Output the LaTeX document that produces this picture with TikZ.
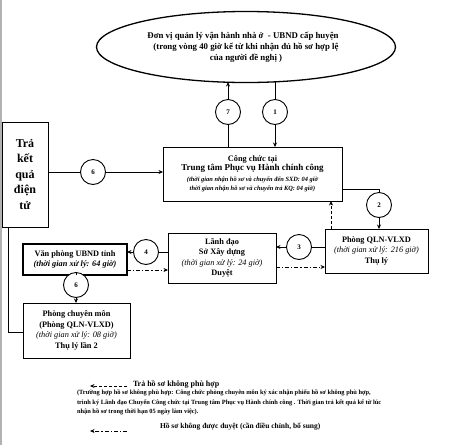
\documentclass[tikz,border=0pt]{standalone}
\usepackage{fontspec}
\setmainfont{Liberation Serif}
\usetikzlibrary{arrows.meta,shapes.geometric}
\newcommand\smallitnote{\fontsize{6.4}{7.5}\selectfont\itshape\bfseries}
\begin{document}
\begin{tikzpicture}[x=1pt,y=-1pt,
  every node/.style={inner sep=0pt,outer sep=0pt},
  box/.style={draw,line width=0.9pt,align=center,font=\fontsize{8.3}{10.5}\selectfont\bfseries},
  num/.style={draw,circle,line width=0.9pt,minimum size=25pt,fill=white,font=\fontsize{7}{8}\selectfont\bfseries},
  conn/.style={line width=0.8pt},
  arr/.style={conn,-{Stealth[length=4.5pt,width=4pt]}},
  dasharr/.style={arr,dash pattern=on 3pt off 2pt},
  dotarr/.style={arr,dash pattern=on 4pt off 2pt on 1.2pt off 2pt}
]
\useasboundingbox (0,0) rectangle (463,445);
\draw[gray!60,line width=1.5pt] (0.75,0) -- (0.75,445);

% main shapes
\node[draw,ellipse,line width=1.3pt,minimum width=299pt,minimum height=71pt,align=center,
      font=\fontsize{8.8}{10.8}\selectfont\bfseries] (ell) at (246,47)
  {\hspace*{-6pt}Đơn vị quản lý vận hành nhà ở\ \ - UBND cấp huyện\\
   (trong vòng 40 giờ kể từ khi nhận đủ hồ sơ hợp lệ\\
   của người đề nghị )};

\node[box,minimum width=46pt,minimum height=105pt,font=\fontsize{12}{15.5}\selectfont\bfseries] (tra) at (25,174.5)
  {Trả\\kết\\quả\\điện\\tử};

\node[box,minimum width=179pt,minimum height=54pt] (cc) at (252.5,174)
  {Công chức tại\\[-1pt]
   {\fontsize{9}{10.5}\selectfont Trung tâm Phục vụ Hành chính công}\\[0pt]
   {\smallitnote (thời gian nhận hồ sơ và chuyển đến SXD: 04 giờ}\\[-1pt]
   {\smallitnote thời gian nhận hồ sơ và chuyển trả KQ: 04 giờ)}};

\node[box,minimum width=103pt,minimum height=44pt] (qln) at (376.5,251)
  {Phòng QLN-VLXD\\
   {\mdseries\itshape (thời gian xử lý: 216 giờ)}\\
   Thụ lý};

\node[box,minimum width=108pt,minimum height=50pt] (ld) at (222,258)
  {Lãnh đạo\\Sở Xây dựng\\
   {\mdseries\itshape (thời gian xử lý: 24 giờ)}\\
   Duyệt};

\node[box,line width=1.4pt,minimum width=104pt,minimum height=31pt] (vp) at (75,259.5)
  {Văn phòng UBND tỉnh\\
   {\itshape (thời gian xử lý: 64 giờ)}};

\node[box,minimum width=107pt,minimum height=55pt] (pcm) at (76.5,330.5)
  {Phòng chuyên môn\\(Phòng QLN-VLXD)\\
   {\mdseries\itshape (thời gian xử lý: 08 giờ)}\\
   Thụ lý lần 2};

% numbered circles
\node[num] (c7) at (228,112) {7};
\node[num] (c1) at (275,112) {1};
\node[num] (c6a) at (93,172) {6};
\node[num] (c2) at (379,205) {2};
\node[num] (c3) at (299,247) {3};
\node[num] (c4) at (146,252) {4};
\node[num] (c6b) at (76,285) {6};

% helper coordinates
\coordinate (p2) at (379,189);
\coordinate (dq) at (331,215);
\coordinate (dd1) at (300,267);
\coordinate (dd2) at (150,270);
\coordinate (t1) at (8,332);

% connectors
\draw[conn] (c7 |- cc.north) -- (c7.south);
\draw[arr] (c7.north) -- ([yshift=0.5pt]c7 |- ell.south);
\draw[conn] ([yshift=0.5pt]c1 |- ell.south) -- (c1.north);
\draw[arr] (c1.south) -- (c1 |- cc.north);
\draw[conn] (tra.east |- c6a) -- (c6a.west);
\draw[arr] (c6a.east) -- (cc.west |- c6a);
\draw[conn] (cc.east |- p2) -- (p2) -- (c2.north);
\draw[arr] (c2.south) -- (c2 |- qln.north);
\draw[dasharr] (dq |- qln.north) -- (dq |- cc.south);
\draw[conn] (qln.west |- c3) -- (c3.east);
\draw[arr] (c3.west) -- (ld.east |- c3);
\draw[dotarr] (ld.east |- dd1) -- (qln.west |- dd1);
\draw[conn] (ld.west |- c4) -- (c4.east);
\draw[arr] (c4.west) -- (vp.east |- c4);
\draw[dotarr] (vp.east |- dd2) -- (ld.west |- dd2);
\draw[conn] (c6b |- vp.south) -- (c6b.north);
\draw[arr] (c6b.south) -- (c6b |- pcm.north);
\draw[conn] (tra.south -| t1) -- (t1) -- (pcm.west |- t1);

% legend
\coordinate (l1a) at (127,386);
\coordinate (l1b) at (90,386);
\coordinate (l2a) at (127,431);
\coordinate (l2b) at (90,431);
\draw[dasharr] (l1a) -- (l1b);
\draw[dotarr] (l2a) -- (l2b);
\node[anchor=west,font=\fontsize{8}{9}\selectfont\bfseries] (lt1) at (133,384) {Trả hồ sơ không phù hợp};
\node[anchor=north west,align=left,font=\fontsize{6.4}{9.6}\selectfont\bfseries] (lp) at (77,390)
  {(Trường hợp hồ sơ không phù hợp: Công chức phòng chuyên môn ký xác nhận phiếu hồ sơ không phù hợp,\\
   trình ký Lãnh đạo Chuyển Công chức tại Trung tâm Phục vụ Hành chính công . Thời gian trả kết quả kể từ lúc\\
   nhận hồ sơ trong thời hạn 05 ngày làm việc).};
\node[anchor=west,font=\fontsize{7.5}{9}\selectfont\bfseries] (lt2) at (160,427) {Hồ sơ không được duyệt (cần điều chỉnh, bổ sung)};
\end{tikzpicture}
\end{document}
